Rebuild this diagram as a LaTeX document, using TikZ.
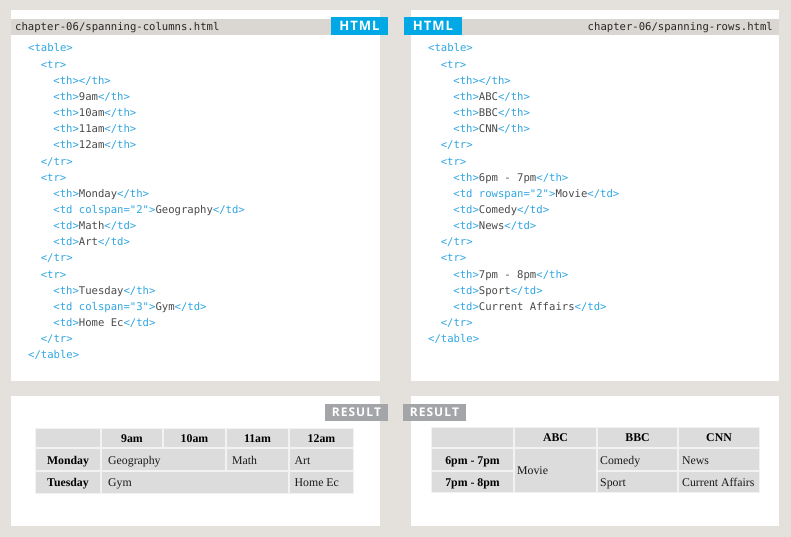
\documentclass[tikz,border=0pt]{standalone}
\usepackage{fontspec}
\setmainfont{Liberation Serif}
\newfontfamily\codefont{DejaVu Sans Mono}
\newfontfamily\badgefont{Open Sans}
\definecolor{pagebg}{HTML}{E4E1DD}
\definecolor{barbg}{HTML}{DAD6D2}
\definecolor{badgeblue}{HTML}{00A8E6}
\definecolor{tagblue}{HTML}{2EA6E2}
\definecolor{codegray}{HTML}{4A4A4A}
\definecolor{resgray}{HTML}{A4A5A9}
\definecolor{cellbg}{HTML}{DCDCDC}
\definecolor{gridbg}{HTML}{F2F2F2}
\newcommand\tg[1]{\textcolor{tagblue}{#1}}
\newcommand\tcell[4]{\fill[cellbg] (#1+1,#2+1) rectangle (#3-1,#4-1);}
\tikzset{
  code/.style={anchor=base west, inner sep=0pt, font=\codefont\fontsize{10.6}{12}\selectfont, text=codegray},
  fname/.style={inner sep=0pt, font=\codefont\fontsize{10.6}{12}\selectfont, text=black!85},
  badge/.style={fill=badgeblue, text=white, inner sep=0pt, font=\badgefont\bfseries\fontsize{13}{15}\selectfont, anchor=center},
  resbadge/.style={fill=resgray, text=white, inner sep=0pt, font=\badgefont\bfseries\fontsize{12}{14}\selectfont, anchor=center},
  th/.style={anchor=base, inner sep=0pt, font=\bfseries\fontsize{11.8}{13}\selectfont, text=black},
  td/.style={anchor=base west, inner sep=0pt, font=\fontsize{11.8}{13}\selectfont, text=black!90},
}
\begin{document}
\begin{tikzpicture}[x=1pt,y=-1pt]
\useasboundingbox (0,0) rectangle (791,537);
\fill[pagebg] (0,0) rectangle (791,537);
% panels
\fill[white] (11,10) rectangle (380,381);
\fill[white] (411,10) rectangle (779,381);
\fill[white] (11,396) rectangle (380,526);
\fill[white] (411,396) rectangle (779,526);
% header bars
\fill[barbg] (11,19) rectangle (331,35);
\fill[barbg] (462,19) rectangle (779,35);
\node[badge, minimum width=57pt, minimum height=18pt] (htmlL) at (359.5,26) {H\kern1ptT\kern1ptM\kern1ptL};
\node[badge, minimum width=58pt, minimum height=18pt] (htmlR) at (433,26) {H\kern1ptT\kern1ptM\kern1ptL};
\node[fname, anchor=base west] (fileL) at (15,31) {chapter-06/spanning-columns.html};
\node[fname, anchor=base east] (fileR) at (773,31) {chapter-06/spanning-rows.html};
% left code
\node[code] (l0) at (28,{52+16.15*0}) {\tg{<table>}};
\node[code] (l1) at (40.6,{52+16.15*1}) {\tg{<tr>}};
\node[code] (l2) at (53.2,{52+16.15*2}) {\tg{<th></th>}};
\node[code] (l3) at (53.2,{52+16.15*3}) {\tg{<th>}9am\tg{</th>}};
\node[code] (l4) at (53.2,{52+16.15*4}) {\tg{<th>}10am\tg{</th>}};
\node[code] (l5) at (53.2,{52+16.15*5}) {\tg{<th>}11am\tg{</th>}};
\node[code] (l6) at (53.2,{52+16.15*6}) {\tg{<th>}12am\tg{</th>}};
\node[code] (l7) at (40.6,{52+16.15*7}) {\tg{</tr>}};
\node[code] (l8) at (40.6,{52+16.15*8}) {\tg{<tr>}};
\node[code] (l9) at (53.2,{52+16.15*9}) {\tg{<th>}Monday\tg{</th>}};
\node[code] (l10) at (53.2,{52+16.15*10}) {\tg{<td colspan="2">}Geography\tg{</td>}};
\node[code] (l11) at (53.2,{52+16.15*11}) {\tg{<td>}Math\tg{</td>}};
\node[code] (l12) at (53.2,{52+16.15*12}) {\tg{<td>}Art\tg{</td>}};
\node[code] (l13) at (40.6,{52+16.15*13}) {\tg{</tr>}};
\node[code] (l14) at (40.6,{52+16.15*14}) {\tg{<tr>}};
\node[code] (l15) at (53.2,{52+16.15*15}) {\tg{<th>}Tuesday\tg{</th>}};
\node[code] (l16) at (53.2,{52+16.15*16}) {\tg{<td colspan="3">}Gym\tg{</td>}};
\node[code] (l17) at (53.2,{52+16.15*17}) {\tg{<td>}Home Ec\tg{</td>}};
\node[code] (l18) at (40.6,{52+16.15*18}) {\tg{</tr>}};
\node[code] (l19) at (28,{52+16.15*19}) {\tg{</table>}};
% right code
\node[code] (r0) at (428,{52+16.15*0}) {\tg{<table>}};
\node[code] (r1) at (440.6,{52+16.15*1}) {\tg{<tr>}};
\node[code] (r2) at (453.2,{52+16.15*2}) {\tg{<th></th>}};
\node[code] (r3) at (453.2,{52+16.15*3}) {\tg{<th>}ABC\tg{</th>}};
\node[code] (r4) at (453.2,{52+16.15*4}) {\tg{<th>}BBC\tg{</th>}};
\node[code] (r5) at (453.2,{52+16.15*5}) {\tg{<th>}CNN\tg{</th>}};
\node[code] (r6) at (440.6,{52+16.15*6}) {\tg{</tr>}};
\node[code] (r7) at (440.6,{52+16.15*7}) {\tg{<tr>}};
\node[code] (r8) at (453.2,{52+16.15*8}) {\tg{<th>}6pm - 7pm\tg{</th>}};
\node[code] (r9) at (453.2,{52+16.15*9}) {\tg{<td rowspan="2">}Movie\tg{</td>}};
\node[code] (r10) at (453.2,{52+16.15*10}) {\tg{<td>}Comedy\tg{</td>}};
\node[code] (r11) at (453.2,{52+16.15*11}) {\tg{<td>}News\tg{</td>}};
\node[code] (r12) at (440.6,{52+16.15*12}) {\tg{</tr>}};
\node[code] (r13) at (440.6,{52+16.15*13}) {\tg{<tr>}};
\node[code] (r14) at (453.2,{52+16.15*14}) {\tg{<th>}7pm - 8pm\tg{</th>}};
\node[code] (r15) at (453.2,{52+16.15*15}) {\tg{<td>}Sport\tg{</td>}};
\node[code] (r16) at (453.2,{52+16.15*16}) {\tg{<td>}Current Affairs\tg{</td>}};
\node[code] (r17) at (440.6,{52+16.15*17}) {\tg{</tr>}};
\node[code] (r18) at (428,{52+16.15*18}) {\tg{</table>}};
% result badges
\node[resbadge, minimum width=63pt, minimum height=17pt] (resL) at (356.5,412.5) {R\kern1ptE\kern1ptS\kern1ptU\kern1ptL\kern1ptT};
\node[resbadge, minimum width=63pt, minimum height=17pt] (resR) at (434.5,412.5) {R\kern1ptE\kern1ptS\kern1ptU\kern1ptL\kern1ptT};
% left table
\fill[gridbg] (35,428) rectangle (354,494);
\tcell{35}{428}{101}{448}
\tcell{101}{428}{163}{448}
\tcell{163}{428}{226}{448}
\tcell{226}{428}{289}{448}
\tcell{289}{428}{354}{448}
\tcell{35}{448}{101}{471}
\tcell{101}{448}{226}{471}
\tcell{226}{448}{289}{471}
\tcell{289}{448}{354}{471}
\tcell{35}{471}{101}{494}
\tcell{101}{471}{289}{494}
\tcell{289}{471}{354}{494}
\node[th] (h9) at (132,442) {9am};
\node[th] (h10) at (194.5,442) {10am};
\node[th] (h11) at (257.5,442) {11am};
\node[th] (h12) at (321.5,442) {12am};
\node[th] (mon) at (68,464.5) {Monday};
\node[th] (tue) at (68,486.5) {Tuesday};
\node[td] (geo) at (108,464.5) {Geography};
\node[td] (math) at (232,464.5) {Math};
\node[td] (art) at (294.5,464.5) {Art};
\node[td] (gym) at (108,486.5) {Gym};
\node[td] (home) at (294.5,486.5) {Home Ec};
% right table
\fill[gridbg] (431,427) rectangle (760,493);
\tcell{431}{427}{514}{448}
\tcell{514}{427}{597}{448}
\tcell{597}{427}{678}{448}
\tcell{678}{427}{760}{448}
\tcell{431}{448}{514}{471}
\tcell{514}{448}{597}{493}
\tcell{597}{448}{678}{471}
\tcell{678}{448}{760}{471}
\tcell{431}{471}{514}{493}
\tcell{597}{471}{678}{493}
\tcell{678}{471}{760}{493}
\node[th] (abc) at (555.5,441.7) {ABC};
\node[th] (bbc) at (637.5,441.7) {BBC};
\node[th] (cnn) at (719,441.7) {CNN};
\node[th] (six) at (472.5,464) {6pm - 7pm};
\node[th] (seven) at (472.5,486) {7pm - 8pm};
\node[td] (movie) at (517,474.5) {Movie};
\node[td] (comedy) at (600,464) {Comedy};
\node[td] (news) at (682,464) {News};
\node[td] (sport) at (600,486) {Sport};
\node[td] (current) at (682,486) {Current Affairs};
\end{tikzpicture}
\end{document}
